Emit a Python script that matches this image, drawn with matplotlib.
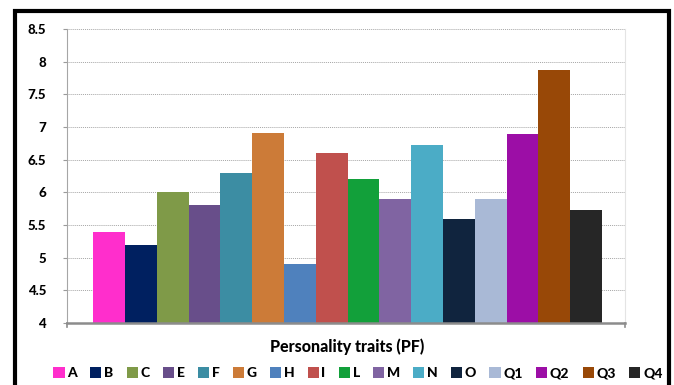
import matplotlib
matplotlib.use("Agg")
import matplotlib.pyplot as plt
from matplotlib.patches import Patch, Rectangle

# Mean scores for each personality factor (16PF)
traits = ["A", "B", "C", "E", "F", "G", "H", "I", "L", "M", "N", "O", "Q1", "Q2", "Q3", "Q4"]
scores = [5.4, 5.2, 6.0, 5.8, 6.3, 6.91, 4.9, 6.6, 6.2, 5.9, 6.72, 5.59, 5.9, 6.9, 7.87, 5.73]
colors = ["#FF2ECC", "#002060", "#7F9A48", "#684E8A", "#3C8DA3", "#CC7B38", "#4F81BD", "#C0504D",
          "#12A03A", "#8064A2", "#4BACC6", "#10243E", "#A9B9D6", "#9C0EA6", "#984807", "#262626"]
yticks = [4, 4.5, 5, 5.5, 6, 6.5, 7, 7.5, 8, 8.5]
ytick_labels = ["4", "4.5", "5", "5.5", "6", "6.5", "7", "7.5", "8", "8.5"]
xlabel = "Personality traits (PF)"

plt.rcParams["font.family"] = ["Lato", "DejaVu Sans"]

W, H = 674, 385
fig = plt.figure(figsize=(W / 100, H / 100), dpi=100)
ax = fig.add_axes([67 / W, 1 - 323 / H, (625 - 67) / W, (323 - 29) / H])

base = yticks[0]
for i, (t, v, c) in enumerate(zip(traits, scores, colors)):
    ax.bar(i, v - base, bottom=base, width=1.0, color=c, linewidth=0, zorder=3)

ax.set_xlim(-1.32, 16.22)
ax.set_ylim(yticks[0], yticks[-1])
ax.set_yticks(yticks)
ax.set_yticklabels(ytick_labels, fontsize=9.5, fontweight="black")
ax.set_xticks([])
ax.yaxis.grid(True, linestyle=(0, (1, 1)), color="#a6a6a6", linewidth=0.7, zorder=0)
ax.tick_params(axis="y", length=3, width=0.8, color="#9a9a9a", pad=12)

for s in ["left", "right"]:
    ax.spines[s].set_linestyle((0, (1, 1)))
    ax.spines[s].set_color("#a6a6a6")
    ax.spines[s].set_linewidth(0.8)
ax.spines["right"].set_color("#e4e4e4")
ax.spines["top"].set_visible(False)
ax.spines["bottom"].set_color("#8c8c8c")
ax.spines["bottom"].set_linewidth(1.8)
ax.spines["bottom"].set_zorder(4)

# small end ticks on the category axis
for xe in (ax.get_xlim()[0], ax.get_xlim()[1]):
    ax.plot([xe, xe], [base, base - 0.06], color="#8c8c8c", lw=1.2, clip_on=False, zorder=4)

fig.text(347 / W, 1 - 347 / H, xlabel, ha="center", va="center", fontsize=11.5, fontweight="black")

handles = [Patch(facecolor=c, edgecolor="none", label=t) for t, c in zip(traits, colors)]
fig.legend(handles=handles, loc="center", bbox_to_anchor=(358 / W, 1 - 373 / H), ncol=16,
           frameon=False, prop={"weight": "black", "size": 10},
           handlelength=0.8, handleheight=0.8, handletextpad=0.2, columnspacing=0.95,
           borderpad=0, borderaxespad=0)

# outer black frame
fig.patches.append(Rectangle((14.5 / W, -0.1), (669 - 14.5) / W, 1.1 - 11.5 / H,
                             transform=fig.transFigure, fill=False, edgecolor="black",
                             linewidth=3, zorder=10))

fig.savefig("out.png", dpi=100)
